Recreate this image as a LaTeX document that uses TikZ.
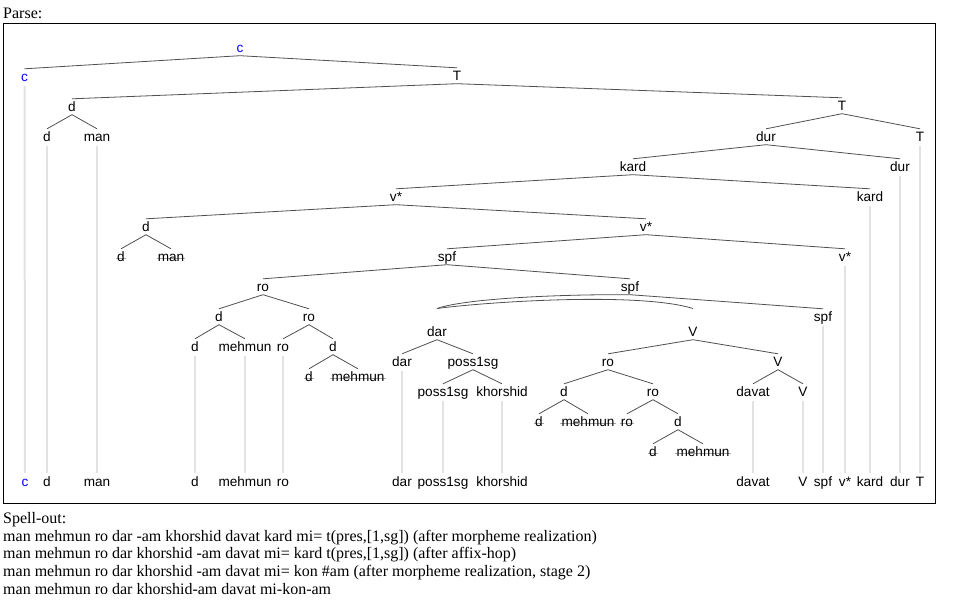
\documentclass[tikz,border=0pt]{standalone}
\usepackage{fontspec}
\setmainfont{Liberation Serif}
\newfontfamily\treefont{Liberation Sans}
\definecolor{edgec}{RGB}{80,80,80}
\definecolor{tracec}{RGB}{226,226,226}
\definecolor{cblue}{RGB}{0,0,255}
\definecolor{strikec}{RGB}{165,165,165}
\pgfdeclarelayer{bg}
\pgfsetlayers{bg,main}
\begin{document}
\begin{tikzpicture}[x=1pt,y=-1pt,
 lab/.style={font=\treefont\fontsize{13.6}{16}\selectfont, anchor=base, yshift=-4.5pt, inner xsep=1pt, inner ysep=2.5pt, text height=10pt, text depth=0.5pt},
 bluelab/.style={lab, text=cblue},
 edge/.style={draw=edgec, line width=0.8pt},
 traceline/.style={draw=tracec, line width=2pt},
 strikeline/.style={draw=strikec, line width=0.5pt},
 txt/.style={font=\fontsize{16}{18}\selectfont, anchor=base west, inner sep=0pt}]
\useasboundingbox (0,0) rectangle (971,605);

% titles and frame
\node[txt] (parse) at (3,18.5) {Parse:};
\draw[line width=1pt] (3.5,23.5) rectangle (935,503);

% tree nodes
\node[bluelab] (c0) at (240,48) {c};
\node[bluelab] (c1) at (24.5,77) {c};
\node[lab] (T0) at (457,76) {T};
\node[lab] (d0) at (72,107) {d};
\node[lab] (T1) at (842,106) {T};
\node[lab] (d0a) at (47,137) {d};
\node[lab] (man0) at (97,137) {man};
\node[lab] (dur0) at (766,137) {dur};
\node[lab] (T2) at (920,137) {T};
\node[lab] (kard0) at (633,167) {kard};
\node[lab] (dur1) at (900,167) {dur};
\node[lab] (vs0) at (396,197) {v*};
\node[lab] (kard1) at (870,197) {kard};
\node[lab] (d1) at (146,227) {d};
\node[lab] (vs1) at (646,227) {v*};
\node[lab] (d1a) at (121,257) {d};
\node[lab] (man1) at (171,257) {man};
\node[lab] (spf0) at (447,257) {spf};
\node[lab] (vs2) at (845,257) {v*};
\node[lab] (ro0) at (263,287) {ro};
\node[lab] (spf1) at (630,287) {spf};
\node[lab] (d2) at (219,317) {d};
\node[lab] (ro1) at (309,317) {ro};
\node[lab] (spf2) at (823,317) {spf};
\node[lab] (dar0) at (437,332) {dar};
\node[lab] (V0) at (693,332) {V};
\node[lab] (d2a) at (195,347) {d};
\node[lab] (meh0) at (245,347) {mehmun};
\node[lab] (ro2) at (283,347) {ro};
\node[lab] (d3) at (333,347) {d};
\node[lab] (dar1) at (402,362) {dar};
\node[lab] (poss0) at (473,362) {poss1sg};
\node[lab] (ro3) at (608,362) {ro};
\node[lab] (V1) at (778,362) {V};
\node[lab] (d3a) at (309,377) {d};
\node[lab] (meh1) at (358,377) {mehmun};
\node[lab] (poss1) at (443,392) {poss1sg};
\node[lab] (khor0) at (502,392) {khorshid};
\node[lab] (d4) at (564,392) {d};
\node[lab] (ro4) at (653,392) {ro};
\node[lab] (davat0) at (753,392) {davat};
\node[lab] (V2) at (803,392) {V};
\node[lab] (d4a) at (539,422) {d};
\node[lab] (meh2) at (588,422) {mehmun};
\node[lab] (ro5) at (627,422) {ro};
\node[lab] (d5) at (678,422) {d};
\node[lab] (d5a) at (653,452) {d};
\node[lab] (meh3) at (703,452) {mehmun};

% leaves
\node[bluelab] (Lc) at (25,482) {c};
\node[lab] (Ld) at (47,482) {d};
\node[lab] (Lman) at (97,482) {man};
\node[lab] (Ld2) at (195,482) {d};
\node[lab] (Lmeh) at (245,482) {mehmun};
\node[lab] (Lro) at (283,482) {ro};
\node[lab] (Ldar) at (402,482) {dar};
\node[lab] (Lposs) at (443,482) {poss1sg};
\node[lab] (Lkhor) at (502,482) {khorshid};
\node[lab] (Ldavat) at (753,482) {davat};
\node[lab] (LV) at (803,482) {V};
\node[lab] (Lspf) at (823,482) {spf};
\node[lab] (Lvs) at (845,482) {v*};
\node[lab] (Lkard) at (870,482) {kard};
\node[lab] (Ldur) at (900,482) {dur};
\node[lab] (LT) at (920,482) {T};

% edges
\draw[edge] (c1.north) -- (c0.south) -- (T0.north);
\draw[edge] (d0.north) -- (T0.south) -- (T1.north);
\draw[edge] (d0a.north) -- (d0.south) -- (man0.north);
\draw[edge] (dur0.north) -- (T1.south) -- (T2.north);
\draw[edge] (kard0.north) -- (dur0.south) -- (dur1.north);
\draw[edge] (vs0.north) -- (kard0.south) -- (kard1.north);
\draw[edge] (d1.north) -- (vs0.south) -- (vs1.north);
\draw[edge] (d1a.north) -- (d1.south) -- (man1.north);
\draw[edge] (spf0.north) -- (vs1.south) -- (vs2.north);
\draw[edge] (ro0.north) -- (spf0.south) -- (spf1.north);
\draw[edge] (d2.north) -- (ro0.south) -- (ro1.north);
\draw[edge] (d2a.north) -- (d2.south) -- (meh0.north);
\draw[edge] (ro2.north) -- (ro1.south) -- (d3.north);
\draw[edge] (d3a.north) -- (d3.south) -- (meh1.north);
\coordinate (lens) at ([yshift=15.3pt]dar0.north);
\draw[edge] (lens) .. controls +(28,-10) and +(-70,-0.5) .. (spf1.south) -- (spf2.north);
\draw[edge] (lens) .. controls +(53,-7) and +(-53,-16.5) .. ([yshift=15.3pt]V0.north);
\draw[edge] (dar1.north) -- (dar0.south) -- (poss0.north);
\draw[edge] (poss1.north) -- (poss0.south) -- (khor0.north);
\draw[edge] (ro3.north) -- (V0.south) -- (V1.north);
\draw[edge] (d4.north) -- (ro3.south) -- (ro4.north);
\draw[edge] (d4a.north) -- (d4.south) -- (meh2.north);
\draw[edge] (ro5.north) -- (ro4.south) -- (d5.north);
\draw[edge] (d5a.north) -- (d5.south) -- (meh3.north);
\draw[edge] (davat0.north) -- (V1.south) -- (V2.north);

% trace lines to the leaves
\begin{pgfonlayer}{bg}
\foreach \a/\b in {c1/Lc, d0a/Ld, man0/Lman, d2a/Ld2, meh0/Lmeh, ro2/Lro, dar1/Ldar, poss1/Lposs, khor0/Lkhor, davat0/Ldavat, V2/LV, spf2/Lspf, vs2/Lvs, kard1/Lkard, dur1/Ldur, T2/LT}
  \draw[traceline] ([yshift=-1pt]\a.south) -- ([yshift=1pt]\b.north);
\foreach \n in {d1a, man1, d3a, meh1, d4a, meh2, ro5, d5a, meh3}
  \draw[strikeline] ([yshift=3.6pt]\n.base west) -- ([yshift=3.6pt]\n.base east);
\end{pgfonlayer}

% spell-out
\node[txt] (so) at (3,523.5) {Spell-out:};
\node[txt] (s1) at (3,541.2) {man mehmun ro dar -am khorshid davat kard mi= t(pres,[1,sg]) (after morpheme realization)};
\node[txt] (s2) at (3,558.9) {man mehmun ro dar khorshid -am davat mi= kard t(pres,[1,sg]) (after affix-hop)};
\node[txt] (s3) at (3,576.6) {man mehmun ro dar khorshid -am davat mi= kon \#am (after morpheme realization, stage 2)};
\node[txt] (s4) at (3,594.3) {man mehmun ro dar khorshid-am davat mi-kon-am};
\end{tikzpicture}
\end{document}
